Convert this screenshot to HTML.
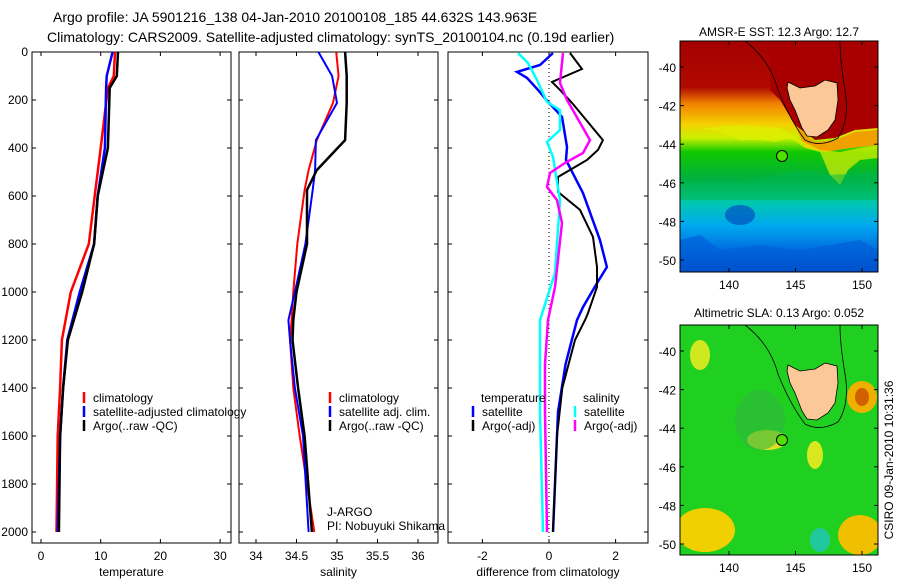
<!DOCTYPE html>
<html><head><meta charset="utf-8"><style>
body{margin:0;background:#fff;}
svg text{font-family:"Liberation Sans",sans-serif;fill:#000;}
</style></head><body>
<svg id="c" width="900" height="580" viewBox="0 0 900 580" xmlns="http://www.w3.org/2000/svg">
<defs>
<linearGradient id="sst" x1="0" y1="0" x2="0" y2="1">
<stop offset="0" stop-color="#a50000"/><stop offset="0.2" stop-color="#b00a00"/>
<stop offset="0.27" stop-color="#f08000"/><stop offset="0.36" stop-color="#f5d000"/>
<stop offset="0.42" stop-color="#c8f000"/><stop offset="0.48" stop-color="#10c800"/>
<stop offset="0.6" stop-color="#00b040"/><stop offset="0.7" stop-color="#00c8b0"/>
<stop offset="0.8" stop-color="#00a8f0"/><stop offset="0.9" stop-color="#0070e0"/>
<stop offset="1" stop-color="#0030b0"/></linearGradient>
<clipPath id="m1"><rect x="680" y="41" width="198" height="231"/></clipPath>
<clipPath id="m2"><rect x="680" y="325" width="198" height="230"/></clipPath>
</defs>
<text x="53" y="22" font-size="14">Argo profile: JA 5901216_138 04-Jan-2010 20100108_185 44.632S 143.963E</text>
<text x="47" y="42" font-size="14">Climatology: CARS2009. Satellite-adjusted climatology: synTS_20100104.nc (0.19d earlier)</text>
<g id="panels"></g>
<!-- top map -->
<g>
<text x="779" y="36" font-size="12" text-anchor="middle">AMSR-E SST: 12.3 Argo: 12.7</text>
<g clip-path="url(#m1)">
<rect x="680" y="41" width="198" height="231" fill="url(#sst)"/>
<path d="M770,41 L878,41 L878,128 L855,130 L835,138 L815,140 L795,125 L780,100 L770,90 Z" fill="#a80000"/>
<path d="M795,125 L815,142 L835,140 L855,132 L878,130 L878,145 L850,148 L825,152 L805,148 Z" fill="#f0a000"/>
<path d="M680,130 L700,128 L720,132 L740,140 L760,140 L775,142 L790,138 L805,148 L820,152 L830,175 L840,185 L848,170 L860,160 L878,158 L878,145 L860,148 L840,152 L820,150 L800,140 L780,128 L740,125 Z" fill="#e0f000" opacity="0.7"/>
<path d="M680,180 L720,185 L760,178 L800,170 L830,175 L878,172 L878,200 L680,200 Z" fill="#00b850" opacity="0.5"/>
<path d="M680,240 L700,235 L720,250 L760,245 L800,250 L830,245 L860,240 L878,250 L878,272 L680,272 Z" fill="#0060d8" opacity="0.7"/>
<ellipse cx="740" cy="215" rx="15" ry="10" fill="#0050c0" opacity="0.7"/>
<path d="M788,82 L800,88 L815,86 L825,80 L837,83 L838,100 L835,120 L828,130 L817,137 L807,136 L802,128 L795,110 L790,100 L787,88 Z" fill="#fcc898" stroke="#000" stroke-width="0.8"/>
<path d="M745,41 Q770,60 778,90 Q790,120 805,140 Q820,148 838,138 Q850,120 845,90 Q840,60 840,41" fill="none" stroke="#000" stroke-width="0.8"/>
</g>
<rect x="680" y="41" width="198" height="231" fill="none" stroke="#000"/>
<circle cx="782" cy="156" r="5.5" fill="#50e000" stroke="#000"/>
</g>
<!-- bottom map -->
<g>
<text x="779" y="317" font-size="12" text-anchor="middle">Altimetric SLA: 0.13 Argo: 0.052</text>
<g clip-path="url(#m2)">
<rect x="680" y="325" width="198" height="230" fill="#20d020"/>
<ellipse cx="700" cy="355" rx="10" ry="15" fill="#d0e820"/>
<ellipse cx="767" cy="440" rx="20" ry="10" fill="#e0e020"/>
<ellipse cx="815" cy="455" rx="8" ry="14" fill="#d8e820"/>
<ellipse cx="862" cy="397" rx="15" ry="16" fill="#f0b000"/>
<ellipse cx="862" cy="397" rx="7" ry="9" fill="#d06000"/>
<ellipse cx="705" cy="530" rx="30" ry="22" fill="#f0d000"/>
<ellipse cx="860" cy="535" rx="22" ry="20" fill="#f0c000"/>
<ellipse cx="820" cy="540" rx="10" ry="12" fill="#20c8a0"/>
<ellipse cx="760" cy="420" rx="25" ry="30" fill="#30b840" opacity="0.6"/>
<path d="M788,365 L800,371 L815,369 L825,363 L837,366 L838,383 L835,403 L828,413 L817,420 L807,419 L802,411 L795,393 L790,383 L787,371 Z" fill="#fcc898" stroke="#000" stroke-width="0.8"/>
<path d="M745,325 Q770,344 778,374 Q790,404 805,424 Q820,432 838,422 Q850,404 845,374 Q840,344 840,325" fill="none" stroke="#000" stroke-width="0.8"/>
</g>
<rect x="680" y="325" width="198" height="230" fill="none" stroke="#000"/>
<circle cx="782" cy="440" r="5.5" fill="#50e000" stroke="#000"/>
</g>
<text transform="translate(893,460) rotate(-90)" font-size="12" text-anchor="middle">CSIRO 09-Jan-2010 10:31:36</text>
<g id="maptix"></g>
</svg>
<script>
// ---- data ----
const tDep=[0,100,150,400,600,800,1000,1200,1400,1600,2000];
const tClim=[12.4,12.2,11.2,10.0,9.0,8.0,5.0,3.5,3.2,2.8,2.6];
const tSat=[12.0,11.0,10.9,10.7,9.5,8.9,6.5,4.4,3.7,3.2,2.8];
const tArgo=[12.9,12.7,11.5,11.2,9.5,8.9,6.9,4.5,3.7,3.2,3.0];
const sDep=[0,100,212,367,492,575,800,1000,1117,1200,1400,1600,2000];
const sClim=[34.99,35.02,34.95,34.75,34.65,34.6,34.51,34.46,34.44,34.42,34.46,34.54,34.72];
const sSat=[34.77,34.94,35.0,34.74,34.73,34.7,34.61,34.48,34.4,34.42,34.48,34.58,34.65];
const sArgo=[35.1,35.12,35.12,35.1,34.75,34.63,34.63,34.5,34.46,34.45,34.52,34.6,34.69];
const dTSatDep=[4,54,83,108,158,212,270,396,450,588,783,896,963,1063,1117,1300,1500,2000];
const dTSat=[0.12,-0.27,-0.96,-0.66,-0.33,0,0.39,0.54,0.51,1.02,1.53,1.74,1.44,1.02,0.84,0.5,0.27,0.12];
const dTArgoDep=[4,71,125,158,212,367,408,450,521,583,658,771,896,979,1088,1117,1200,1400,1600,2000];
const dTArgo=[0.63,0.99,0.09,0.33,0.69,1.62,1.47,1.14,0.27,0.27,0.93,1.32,1.44,1.44,1.17,1.08,0.78,0.4,0.24,0.12];
const dSSatDep=[4,46,117,208,242,325,375,437,617,921,1117,1300,1500,2000];
const dSSat=[-0.93,-0.63,-0.36,-0.06,0.33,0.33,-0.06,0.12,0.33,0.18,-0.27,-0.27,-0.27,-0.18];
const dSArgoDep=[4,129,200,367,421,462,504,562,617,712,979,1117,1300,1500,2000];
const dSArgo=[0.42,0.33,0.54,1.23,1.02,0.48,0.03,-0.06,0.24,0.39,0.18,-0.03,-0.12,-0.12,-0.06];
const pTicks=[0,200,400,600,800,1000,1200,1400,1600,1800,2000];
const tTicks=[0,10,20,30];
const sTicks=[34,34.5,35,35.5,36];
const dTicks=[-2,0,2];
// ---- axes ----
const NS='http://www.w3.org/2000/svg';
const yP=p=>52+0.24*p;
const xT=v=>41+5.97*v;
const xS=v=>256+81*(v-34);
const xD=v=>549+33.3*v;
const root=document.getElementById('panels');
function mk(tag,attrs,parent){const e=document.createElementNS(NS,tag);for(const k in attrs)e.setAttribute(k,attrs[k]);(parent||root).appendChild(e);return e;}
function txt(x,y,s,size,anchor,parent){const e=mk('text',{x:x,y:y,'font-size':size,'text-anchor':anchor||'start'},parent);e.textContent=s;return e;}
const panels=[{x0:32,x1:231,xf:xT,ticks:tTicks,lab:'temperature',n:'temperature'},{x0:239,x1:438,xf:xS,ticks:sTicks,lab:'salinity',n:'salinity'},{x0:448,x1:648,xf:xD,ticks:dTicks,lab:'difference from climatology',n:'difference'}];
panels.forEach((p,i)=>{
 const g=mk('g',{});
 
 
 const r=mk('rect',{x:p.x0,y:52,width:p.x1-p.x0,height:491,fill:'none',stroke:'#000'},g);
 
 
 pTicks.forEach(t=>{const y=yP(t);mk('line',{x1:p.x0,x2:p.x0+4,y1:y,y2:y,stroke:'#000'},g);mk('line',{x1:p.x1-4,x2:p.x1,y1:y,y2:y,stroke:'#000'},g);
  if(i===0){const l=txt(28,y+4,String(t),12,'end',g);}});
 p.ticks.forEach(t=>{const x=p.xf(t);mk('line',{x1:x,x2:x,y1:52,y2:56,stroke:'#000'},g);mk('line',{x1:x,x2:x,y1:539,y2:543,stroke:'#000'},g);
  const l=txt(x,560,String(t),12,'middle',g);});
 const a=txt((p.x0+p.x1)/2,576,p.lab,12,'middle',g);
 
 
});
mk('line',{x1:xD(0),x2:xD(0),y1:52,y2:543,stroke:'#000','stroke-dasharray':'1,3'});
function line(dep,val,xf,color,w,name){
 const pts=dep.map((d,i)=>xf(val[i]).toFixed(1)+','+yP(d).toFixed(1)).join(' ');
 const e=mk('polyline',{points:pts,fill:'none',stroke:color,'stroke-width':w});
 
 
}
line(tDep,tClim,xT,'#f00',2.5,'temperature-climatology-line');
line(tDep,tSat,xT,'#00f',2.5,'temperature-satellite-line');
line(tDep,tArgo,xT,'#000',2.5,'temperature-argo-line');
line(sDep,sClim,xS,'#f00',2,'salinity-climatology-line');
line(sDep,sSat,xS,'#00f',2,'salinity-satellite-line');
line(sDep,sArgo,xS,'#000',2.5,'salinity-argo-line');
line(dTSatDep,dTSat,xD,'#00f',2.5,'diff-temperature-satellite-line');
line(dTArgoDep,dTArgo,xD,'#000',2,'diff-temperature-argo-line');
line(dSSatDep,dSSat,xD,'#0ff',2.5,'diff-salinity-satellite-line');
line(dSArgoDep,dSArgo,xD,'#f0f',2.5,'diff-salinity-argo-line');
function leg(x,y,color,s,name){
 const g=mk('g',{});
 
 
 if(color)mk('line',{x1:x,x2:x,y1:y-10,y2:y+1,stroke:color,'stroke-width':2.5},g);
 txt(x+9,y,s,12,'start',g);
}
leg(84,402,'#f00','climatology','legend-climatology');
leg(84,416,'#00f','satellite-adjusted climatology','legend-satellite-adjusted');
leg(84,430,'#000','Argo(..raw -QC)','legend-argo');
leg(330,402,'#f00','climatology','legend-sal-climatology');
leg(330,416,'#00f','satellite adj. clim.','legend-sal-satellite');
leg(330,430,'#000','Argo(..raw -QC)','legend-sal-argo');
txt(327,516,'J-ARGO',12);
txt(327,530,'PI: Nobuyuki Shikama',12);
txt(481,402,'temperature',12);
txt(583,402,'salinity',12);
leg(473,416,'#00f','satellite','legend-diff-t-satellite');
leg(473,430,'#000','Argo(-adj)','legend-diff-t-argo');
leg(575,416,'#0ff','satellite','legend-diff-s-satellite');
leg(575,430,'#f0f','Argo(-adj)','legend-diff-s-argo');
// map ticks
const mt=document.getElementById('maptix');
const lats=[-40,-42,-44,-46,-48,-50];
const lons=[140,145,150];
[[67,41,272],[351,325,555]].forEach(([y40,top,bot])=>{
 lats.forEach(l=>{const y=y40+(-40-l)*19.3;mk('line',{x1:680,x2:684,y1:y,y2:y,stroke:'#000'},mt);mk('line',{x1:874,x2:878,y1:y,y2:y,stroke:'#000'},mt);
  const e=txt(676,y+5,String(l),12,'end',mt);});
 lons.forEach(l=>{const x=729+(l-140)*13.3;mk('line',{x1:x,x2:x,y1:top,y2:top+4,stroke:'#000'},mt);mk('line',{x1:x,x2:x,y1:bot-4,y2:bot,stroke:'#000'},mt);
  const e=txt(x,bot+17,String(l),12,'middle',mt);});
});
</script>
</body></html>
